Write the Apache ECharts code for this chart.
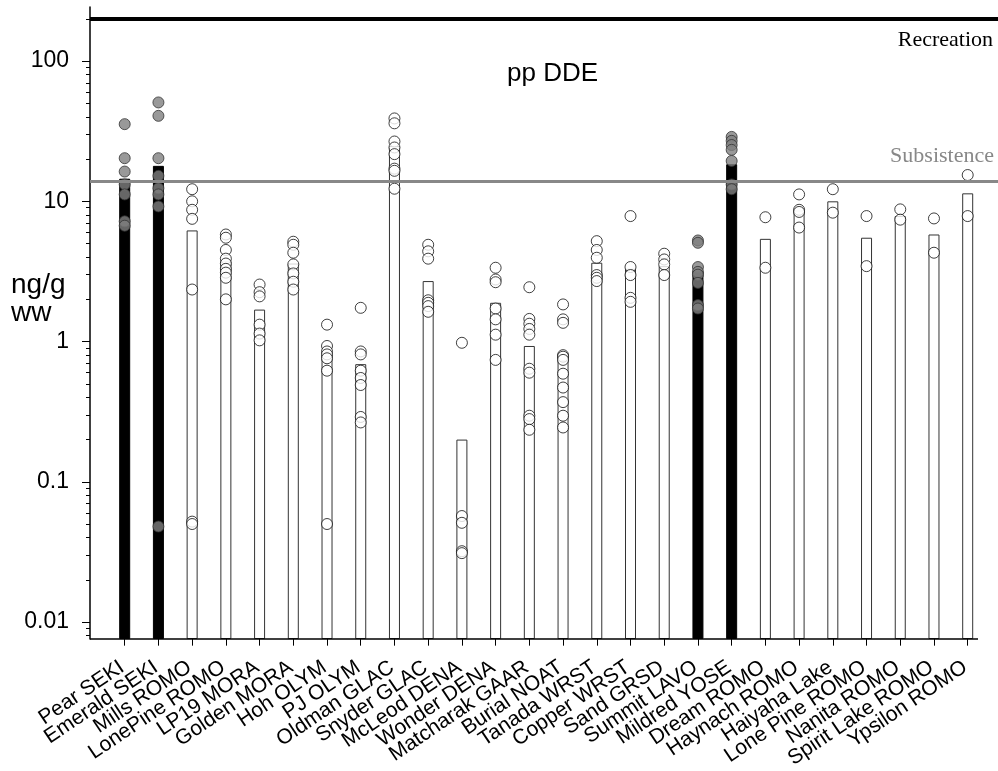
<!DOCTYPE html>
<html><head><meta charset="utf-8">
<script src="https://cdn.jsdelivr.net/npm/echarts@6/dist/echarts.min.js"></script>
<style>html,body{margin:0;padding:0;background:#fff}#c{width:998px;height:771px}</style>
</head><body><div id="c"></div>
<script>
var categories = ['Pear SEKI','Emerald SEKI','Mills ROMO','LonePine ROMO','LP19 MORA','Golden MORA','Hoh OLYM','PJ OLYM','Oldman GLAC','Snyder GLAC','McLeod DENA','Wonder DENA','Matcharak GAAR','Burial NOAT','Tanada WRST','Copper WRST','Sand GRSD','Summit LAVO','Mildred YOSE','Dream ROMO','Haynach ROMO','Haiyaha Lake','Lone Pine ROMO','Nanita ROMO','Spirit Lake ROMO','Ypsilon ROMO'];
var means = [14.5, 17.9, 6.2, 3.75, 1.69, 3.6, 0.82, 0.69, 24.8, 2.7, 0.2, 1.89, 0.93, 0.81, 3.65, 3.3, 3.45, 3.18, 18.4, 5.4, 8.6, 10.0, 5.5, 7.85, 5.8, 11.4];
var filledLakes = ['Pear SEKI','Emerald SEKI','Summit LAVO','Mildred YOSE'];

var pearSEKI = [35.5, 20.3, 16.3, 13.2, 11.2, 7.2, 6.7];
var emeraldSEKI = [50.7, 40.7, 20.3, 15.2, 12.4, 11.2, 9.2, 0.048];
var millsROMO = [12.2, 10.0, 8.7, 7.5, 2.35, 0.052, 0.05];
var lonePineROMO = [5.8, 5.5, 4.5, 3.9, 3.6, 3.3, 3.1, 2.85, 2.0];
var lp19MORA = [2.55, 2.25, 2.1, 1.32, 1.14, 1.02];
var goldenMORA = [5.15, 4.9, 4.3, 3.55, 3.06, 2.67, 2.35];
var hohOLYM = [1.32, 0.93, 0.85, 0.81, 0.76, 0.62, 0.05];
var pjOLYM = [1.74, 0.85, 0.81, 0.62, 0.55, 0.49, 0.29, 0.265];
var oldmanGLAC = [39, 36, 26.7, 24.2, 21.7, 17.1, 16.5, 12.3];
var snyderGLAC = [4.9, 4.4, 3.9, 1.97, 1.89, 1.79, 1.63];
var mcleodDENA = [0.98, 0.057, 0.051, 0.032, 0.031];
var wonderDENA = [3.36, 2.77, 2.65, 1.72, 1.44, 1.12, 0.74];
var matcharakGAAR = [2.44, 1.45, 1.34, 1.23, 1.12, 0.64, 0.6, 0.296, 0.28, 0.235];
var burialNOAT = [1.84, 1.44, 1.36, 0.8, 0.78, 0.74, 0.59, 0.47, 0.37, 0.296, 0.244];
var tanadaWRST = [5.2, 4.5, 3.96, 2.98, 2.85, 2.7];
var copperWRST = [7.85, 3.4, 2.98, 2.05, 1.92];
var sandGRSD = [4.23, 3.85, 3.55, 2.98];
var summitLAVO = [5.26, 5.06, 3.4, 3.14, 3.0, 2.62, 1.82, 1.72];
var mildredYOSE = [28.8, 27.0, 25.2, 23.3, 19.4, 13.2, 12.2];
var dreamROMO = [7.7, 3.36];
var haynachROMO = [11.2, 8.7, 8.4, 6.5];
var haiyahaLake = [12.2, 8.3];
var lonePine2ROMO = [7.85, 3.45];
var nanitaROMO = [8.76, 7.4];
var spiritLakeROMO = [7.55, 4.3];
var ypsilonROMO = [15.4, 7.85];

var samples = [pearSEKI, emeraldSEKI, millsROMO, lonePineROMO, lp19MORA, goldenMORA, hohOLYM, pjOLYM, oldmanGLAC, snyderGLAC, mcleodDENA, wonderDENA, matcharakGAAR, burialNOAT, tanadaWRST, copperWRST, sandGRSD, summitLAVO, mildredYOSE, dreamROMO, haynachROMO, haiyahaLake, lonePine2ROMO, nanitaROMO, spiritLakeROMO, ypsilonROMO];

var recreation = 200;
var subsistence = 14;
var yTickValues = [0.01, 0.1, 1, 10, 100];
var yTickLabels = ['0.01', '0.1', '1', '10', '100'];
var yMin = 0.00757, yMax = 243;

// layout constants (pixels)
var plotLeft = 90, plotRight = 998, firstX = 124.7, step = 33.72, axisEndX = 978;
var xMin = -(firstX - plotLeft) / step;
var xMax = xMin + (plotRight - plotLeft) / step;
var xAxisEnd = (axisEndX - firstX) / step;
var catLeft = firstX - step / 2;
var catRight = 998 - (catLeft + step * categories.length);

var minorTicks = [];
[0.001, 0.01, 0.1, 1, 10, 100].forEach(function (d) {
  for (var k = 2; k <= 9; k++) {
    var v = +(d * k).toPrecision(3);
    if (v >= yMin && v <= yMax) minorTicks.push(v);
  }
});

function isFilled(i) { return filledLakes.indexOf(categories[i]) >= 0; }

var barData = means.map(function (v, i) {
  return {
    value: [i, v],
    itemStyle: isFilled(i)
      ? { color: '#000', borderColor: '#000', borderWidth: 1 }
      : { color: '#fff', borderColor: '#333', borderWidth: 1 }
  };
});
var pointData = [];
samples.forEach(function (arr, i) {
  arr.forEach(function (v) {
    pointData.push({
      value: [i, v],
      itemStyle: isFilled(i)
        ? { color: '#808080', borderColor: '#333', borderWidth: 1 }
        : { color: '#fff', borderColor: '#111', borderWidth: 1 }
    });
  });
});

var chart = echarts.init(document.getElementById('c'), null, { renderer: 'canvas' });
chart.setOption({
  animation: false,
  backgroundColor: '#fff',
  grid: [
    { left: plotLeft, right: 998 - plotRight, top: 7, bottom: 132, containLabel: false },
    { left: catLeft, right: catRight, top: 7, bottom: 132, containLabel: false }
  ],
  xAxis: [{
    type: 'value', gridIndex: 0, min: xMin, max: xMax,
    axisLine: { show: false, onZero: false },
    splitLine: { show: false },
    axisTick: { show: false },
    axisLabel: { show: false }
  }, {
    type: 'category', gridIndex: 1, data: categories, boundaryGap: true,
    axisLine: { show: false, onZero: false },
    splitLine: { show: false },
    axisTick: { show: true, alignWithLabel: true, interval: 0, length: 9, lineStyle: { color: '#000', width: 1 } },
    axisLabel: {
      interval: 0, rotate: 34, margin: 27, padding: [0, 3, 0, 0],
      fontFamily: 'Liberation Sans, Arial, sans-serif', fontSize: 21, color: '#000'
    }
  }],
  yAxis: [{
    type: 'log', gridIndex: 0, logBase: 10, min: yMin, max: yMax, startValue: yMin,
    axisLine: { show: true, onZero: false, lineStyle: { color: '#000', width: 1.5 } },
    splitLine: { show: false },
    axisTick: { show: true, customValues: yTickValues, length: 8, lineStyle: { color: '#000', width: 1 } },
    axisLabel: {
      customValues: yTickValues, margin: 21, showMinLabel: true, showMaxLabel: true,
      fontFamily: 'Liberation Sans, Arial, sans-serif', fontSize: 23, color: '#000',
      formatter: function (v) {
        var best = 0;
        for (var k = 0; k < yTickValues.length; k++) {
          if (Math.abs(Math.log10(v) - Math.log10(yTickValues[k])) < Math.abs(Math.log10(v) - Math.log10(yTickValues[best]))) best = k;
        }
        return yTickLabels[best];
      }
    }
  }, {
    type: 'log', gridIndex: 0, logBase: 10, min: yMin, max: yMax, position: 'left',
    axisLine: { show: false, onZero: false },
    splitLine: { show: false },
    axisTick: { show: true, customValues: minorTicks, length: 4, lineStyle: { color: '#000', width: 1 } },
    axisLabel: { show: false }
  }, {
    type: 'value', gridIndex: 1, show: false
  }],
  graphic: [
    { type: 'text', left: 507, top: 61, style: { text: 'pp DDE', font: '26px "Liberation Sans", Arial, sans-serif', fill: '#000' } },
    { type: 'text', left: 11, top: 271, style: { text: 'ng/g\nww', font: '28px "Liberation Sans", Arial, sans-serif', lineHeight: 28, fill: '#000' } }
  ],
  series: [{
    type: 'bar', xAxisIndex: 0, yAxisIndex: 0, barWidth: 11, z: 1,
    data: barData
  }, {
    type: 'line', xAxisIndex: 0, yAxisIndex: 0, data: [], z: 2,
    markLine: {
      symbol: 'none', silent: true, animation: false,
      data: [
        { yAxis: recreation, lineStyle: { color: '#000', width: 4, type: 'solid' },
          label: { show: true, formatter: 'Recreation', position: 'insideEndBottom', distance: [5, 10],
                   fontFamily: 'Liberation Serif, Times New Roman, serif', fontSize: 22, color: '#000' } },
        { yAxis: subsistence, lineStyle: { color: '#888', width: 3, type: 'solid' },
          label: { show: true, formatter: 'Subsistence', position: 'insideEndTop', distance: [4, 14],
                   fontFamily: 'Liberation Serif, Times New Roman, serif', fontSize: 22, color: '#888' } },
        [{ coord: [xMin, yMin], lineStyle: { color: '#000', width: 1.5, type: 'solid' }, label: { show: false } },
         { coord: [xAxisEnd, yMin] }]
      ]
    }
  }, {
    type: 'scatter', xAxisIndex: 0, yAxisIndex: 0, symbol: 'circle', symbolSize: 11, z: 3,
    data: pointData
  }]
});
</script></body></html>
